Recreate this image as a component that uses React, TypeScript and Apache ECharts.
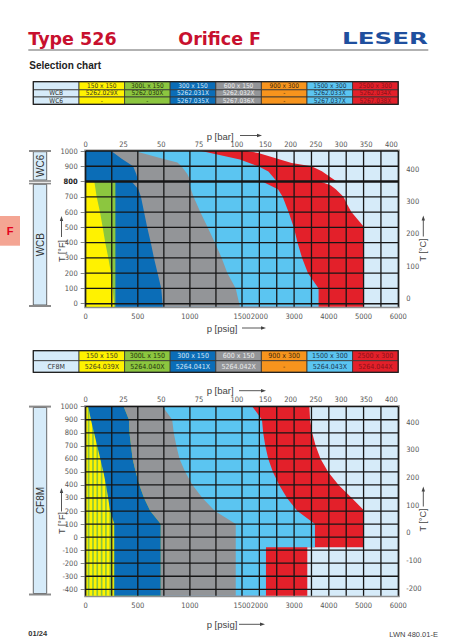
import { useEffect, useRef } from "react";
import * as echarts from "echarts";

// ---------- data ----------
const PSI_PER_BAR = 14.5038;
const psigLabels = [0, 500, 1000, 1500, 2000, 3000, 4000, 5000, 6000];
const barLabels = [0, 25, 50, 75, 100, 150, 200, 250, 300, 350, 400];
const psigGridLines = [0, 250, 500, 750, 1000, 1250, 1500, 2000, 2500, 3000, 3500, 4000, 4500, 5000, 5500, 6000];
const topTempF = [0, 100, 200, 300, 400, 500, 600, 700, 800, 900, 1000];
const topTempC = [0, 100, 200, 300, 400];
const botTempF = [-400, -300, -200, -100, 0, 100, 200, 300, 400, 500, 600, 700, 800, 900, 1000];
const botTempC = [-200, -100, 0, 100, 200, 300, 400];

const classNames = ["150 x 150", "300L x 150", "300 x 150", "600 x 150", "900 x 300", "1500 x 300", "2500 x 300"];
const wcbParts = ["5262.029X", "5262.030X", "5262.031X", "5262.032X", "-", "5262.033X", "5262.034X"];
const wc6Parts = ["-", "-", "5267.035X", "5267.036X", "-", "5267.037X", "5267.038X"];
const cf8mParts = ["5264.039X", "5264.040X", "5264.041X", "5264.042X", "-", "5264.043X", "5264.044X"];

// pressure limits: [T in °F, p in psig]
const wcb150 = [[-20, 275], [0, 272], [100, 259], [200, 243], [300, 217], [400, 188], [500, 163], [600, 137], [700, 105], [800, 83]];
const wcb300L = [[-20, 285], [800, 285]];
const wcb300 = [[-20, 740], [100, 725], [200, 690], [300, 655], [400, 625], [500, 590], [600, 560], [700, 530], [750, 505], [800, 440]];
const wcb600 = [[-20, 1480], [100, 1440], [200, 1360], [300, 1305], [400, 1240], [500, 1170], [600, 1100], [700, 1035], [750, 1010], [800, 985]];
const wcb1500 = [[-20, 3705], [100, 3705], [200, 3400], [300, 3230], [400, 3100], [500, 2990], [600, 2840], [700, 2670], [750, 2535], [800, 2080]];
const wcb2500 = [[-20, 5000], [505, 5000], [600, 4650], [650, 4530], [700, 4420], [750, 4200], [775, 4050], [800, 3750]];
const wc6_300 = [[800, 505], [850, 485], [900, 455], [950, 345], [1000, 245]];
const wc6_600 = [[800, 1010], [850, 975], [900, 920], [925, 880], [950, 740], [975, 600], [1000, 470]];
const wc6_1500 = [[800, 2500], [815, 2450], [865, 2260], [900, 1970], [945, 1480], [1000, 1110]];
const wc6_2500 = [[800, 4230], [823, 4080], [867, 3800], [900, 3500], [921, 2930], [954, 2450], [987, 1970], [1000, 1650]];
const cf150 = [[-450, 275], [100, 275], [200, 235], [300, 215], [400, 195], [500, 170], [600, 140], [700, 110], [800, 80], [900, 50], [1000, 25]];
const cf300 = [[-450, 720], [100, 720], [200, 620], [300, 560], [400, 515], [500, 480], [600, 450], [700, 435], [800, 420], [900, 415], [1000, 365]];
const cf600 = [[-450, 1440], [100, 1440], [200, 1240], [300, 1120], [400, 1025], [500, 955], [600, 900], [700, 870], [800, 845], [900, 830], [1000, 740]];
const cf1500 = [[-450, 2190], [-77, 2190], [-77, 3600], [100, 3600], [200, 3095], [300, 2795], [400, 2570], [500, 2390], [600, 2255], [700, 2170], [800, 2110], [900, 2075], [1000, 1800]];
const cf2500 = [[-450, 3380], [-77, 3380], [-77, 5000], [208, 5000], [300, 4660], [400, 4280], [500, 3980], [600, 3760], [700, 3620], [800, 3520], [900, 3460], [1000, 3440]];
const cf8mStripes = [28, 70, 111, 153, 194, 236, 277];

// ---------- styles ----------
const YELLOW = "#fff200", GREEN = "#8cc63f", BLUE = "#0b6db7", GRAY = "#939598", ORANGE = "#f7941d", LBLUE = "#5bc5f1", RED = "#e3202a", VLIGHT = "#d6ebf9";
const classColors = [YELLOW, GREEN, BLUE, GRAY, ORANGE, LBLUE, RED];
const classTextColors = ["#3b3b20", "#24330f", "#d6e6f5", "#ececec", "#3d2a10", "#1c3550", "#8a1218"];
const FONT_N = "'Liberation Sans Narrow', 'DejaVu Sans Condensed', sans-serif";
const FONT = "'Liberation Sans', Arial, sans-serif";
const GRID_LINE = "#161616";

const toU = (p: number) => (p <= 1500 ? p : 1500 + (p - 1500) / 3);
const fromU = (u: number) => (u <= 1500 ? u : 1500 + (u - 1500) * 3);
const UMAX = toU(6000);

type Pt = number[];
const fromZero = (pts: Pt[]) => [[0, pts[0][0]], ...pts.map(([t, p]) => [toU(p), t]), [0, pts[pts.length - 1][0]]];
const band = (lo: Pt[], hi: Pt[]) => [...lo.map(([t, p]) => [toU(p), t]), ...hi.slice().reverse().map(([t, p]) => [toU(p), t])];
const full = (tMin: number, tMax: number) => [[0, tMin], [UMAX, tMin], [UMAX, tMax], [0, tMax]];

const shapesTop = [
  { pts: full(-20, 1000), color: VLIGHT },
  { pts: fromZero(wcb2500), color: RED },
  { pts: fromZero(wcb1500), color: LBLUE },
  { pts: fromZero(wcb600), color: GRAY },
  { pts: fromZero(wcb300), color: BLUE },
  { pts: fromZero(wcb300L), color: GREEN },
  { pts: fromZero(wcb150), color: YELLOW },
  { pts: fromZero(wc6_2500), color: RED },
  { pts: fromZero(wc6_1500), color: LBLUE },
  { pts: fromZero(wc6_600), color: GRAY },
  { pts: fromZero(wc6_300), color: BLUE },
];
const shapesBot = [
  { pts: full(-450, 1000), color: VLIGHT },
  { pts: fromZero(cf2500), color: RED },
  { pts: fromZero(cf1500), color: LBLUE },
  { pts: fromZero(cf600), color: GRAY },
  { pts: fromZero(cf300), color: YELLOW },
  ...cf8mStripes.map((c) => ({ pts: [[c - 8, -450], [c + 8, -450], [c + 8, 1000], [c - 8, 1000]], color: GREEN })),
  { pts: band(cf150, cf300), color: BLUE },
];

function fillSeries(shapes: any[], gi: number) {
  return {
    type: "custom",
    xAxisIndex: gi * 2,
    yAxisIndex: gi * 2,
    silent: true,
    z: 2,
    data: shapes.map((_, i) => [i, 0]),
    renderItem: (params: any, api: any) => {
      const s = shapes[params.dataIndex];
      return { type: "polygon", shape: { points: s.pts.map((p: number[]) => api.coord(p)) }, style: { fill: s.color, stroke: "none" } };
    },
  };
}

// one item draws every grid line of the panel
function gridLineSeries(gi: number, temps: number[], tMin: number, tMax: number, thickT: number | null) {
  return {
    type: "custom",
    xAxisIndex: gi * 2,
    yAxisIndex: gi * 2,
    silent: true,
    z: 3,
    data: [[0, 0]],
    renderItem: (params: any, api: any) => {
      const children: any[] = [];
      psigGridLines.forEach((p) => {
        const a = api.coord([toU(p), tMin]);
        const b = api.coord([toU(p), tMax]);
        children.push({ type: "line", shape: { x1: a[0], y1: a[1], x2: b[0], y2: b[1] }, style: { stroke: GRID_LINE, lineWidth: 1.3 } });
      });
      temps.forEach((t) => {
        const a = api.coord([0, t]);
        const b = api.coord([UMAX, t]);
        children.push({ type: "line", shape: { x1: a[0], y1: a[1], x2: b[0], y2: b[1] }, style: { stroke: GRID_LINE, lineWidth: t === thickT ? 2.6 : 1.3 } });
      });
      return { type: "group", children };
    },
  };
}

const labelStyle = { fontSize: 7.5, color: "#555", fontFamily: FONT_N, showMinLabel: true, showMaxLabel: true, hideOverlap: false };

function psigAxis(gi: number) {
  return {
    type: "value", gridIndex: gi, position: "bottom", min: 0, max: UMAX,
    axisLine: { show: false }, axisTick: { show: false }, splitLine: { show: false }, minorSplitLine: { show: false },
    axisLabel: { ...labelStyle, margin: 6, customValues: psigLabels.map(toU), formatter: (v: number) => String(Math.round(fromU(v))) },
  };
}
function barAxis(gi: number) {
  const vals = barLabels.map((b) => toU(b * PSI_PER_BAR));
  return {
    type: "value", gridIndex: gi, position: "top", min: 0, max: UMAX,
    axisLine: { show: false }, splitLine: { show: false }, minorSplitLine: { show: false },
    axisTick: { show: true, length: 3, customValues: vals, lineStyle: { color: "#555", width: 0.8 } },
    axisLabel: { ...labelStyle, margin: 3, customValues: vals, formatter: (v: number) => String(Math.round(fromU(v) / PSI_PER_BAR)) },
  };
}
function tempAxis(gi: number, pos: string, min: number, max: number, vals: number[], bold: number | null) {
  return {
    type: "value", gridIndex: gi, position: pos, min, max,
    axisLine: { show: false }, splitLine: { show: false }, minorSplitLine: { show: false },
    axisTick: { show: true, length: 5, customValues: vals, lineStyle: { color: "#666", width: 0.8 } },
    axisLabel: {
      ...labelStyle, margin: 8, customValues: vals,
      formatter: (v: number) => (v === bold ? "{b|" + v + "}" : String(v)),
      rich: { b: { fontSize: 7.5, fontWeight: "bold", color: "#222", fontFamily: FONT_N } },
    },
  };
}

// ---------- graphic helpers ----------
const txt = (x: number, y: number, text: string, o: any = {}) => ({
  type: "text", x, y, rotation: o.rotation || 0, scaleX: o.scaleX || 1, silent: true, z: 10,
  style: {
    text, fill: o.fill || "#333", fontSize: o.size || 9, fontFamily: o.family || FONT, fontWeight: o.weight || "normal",
    align: o.align || "left", textAlign: o.align || "left", verticalAlign: "middle", textVerticalAlign: "middle",
  },
});
const ln = (x1: number, y1: number, x2: number, y2: number, stroke = "#444", w = 1) => ({
  type: "line", silent: true, z: 10, shape: { x1, y1, x2, y2 }, style: { stroke, lineWidth: w },
});
const rc = (x: number, y: number, w: number, h: number, fill: string, stroke = "none", lw = 0) => ({
  type: "rect", silent: true, z: 9, shape: { x, y, width: w, height: h }, style: { fill, stroke, lineWidth: lw },
});
const arrowRight = (x1: number, x2: number, y: number) => [
  ln(x1, y, x2 - 4, y, "#444", 0.9),
  { type: "polygon", silent: true, z: 10, shape: { points: [[x2, y], [x2 - 5, y - 1.7], [x2 - 5, y + 1.7]] }, style: { fill: "#444" } },
];
const arrowUp = (x: number, y1: number, y2: number) => [
  ln(x, y1, x, y2 + 4, "#444", 0.9),
  { type: "polygon", silent: true, z: 10, shape: { points: [[x, y2], [x - 1.7, y2 + 5], [x + 1.7, y2 + 5]] }, style: { fill: "#444" } },
];

const colX = [33.3, 79, 124.6, 170.2, 215.8, 261.4, 307, 352.6, 398.2];
function table(rowsY: number[], rows: { name: string; cells: string[] }[], size: number) {
  const els: any[] = [];
  const all = [{ name: "", cells: classNames }, ...rows];
  all.forEach((r, ri) => {
    const y0 = rowsY[ri], h = rowsY[ri + 1] - rowsY[ri], yc = y0 + h / 2;
    els.push(rc(colX[0], y0, colX[1] - colX[0], h, VLIGHT, "#333", 0.8));
    if (r.name) els.push(txt((colX[0] + colX[1]) / 2, yc, r.name, { size, family: FONT_N, fill: "#333", align: "center" }));
    r.cells.forEach((c, ci) => {
      const x0 = colX[ci + 1], w = colX[ci + 2] - x0;
      els.push(rc(x0, y0, w, h, classColors[ci], "#333", 0.8));
      els.push(txt(x0 + w / 2, yc, c, { size, family: FONT_N, fill: classTextColors[ci], align: "center" }));
    });
  });
  els.push(rc(colX[0], rowsY[0], colX[8] - colX[0], rowsY[rowsY.length - 1] - rowsY[0], "none", "#222", 1.2));
  return els;
}
function sideBox(y0: number, y1: number, label: string) {
  return [
    rc(33.3, y0, 13.4, y1 - y0, VLIGHT, "#444", 0.8),
    txt(40, (y0 + y1) / 2, label, { size: 10, rotation: Math.PI / 2, align: "center", fill: "#333" }),
  ];
}

const graphics: any[] = [
  txt(28.3, 38.5, "Type 526", { size: 17.5, weight: "bold", family: "'DejaVu Sans', sans-serif", fill: "#c8102e" }),
  txt(178.3, 38.5, "Orifice F", { size: 17.5, weight: "bold", family: "'DejaVu Sans', sans-serif", fill: "#c8102e" }),
  txt(342, 38.5, "LESER", { size: 15, weight: "bold", family: "'DejaVu Sans', sans-serif", fill: "#1f4f9e", scaleX: 1.64 }),
  ln(28.3, 50, 428.3, 50, "#999", 1.5),
  txt(29.3, 65, "Selection chart", { size: 10, weight: "bold", fill: "#222" }),
  ...table([81.7, 89.8, 97.0, 104.3], [{ name: "WCB", cells: wcbParts }, { name: "WC6", cells: wc6Parts }], 6.5),
  ...table([350.7, 360.7, 372.3], [{ name: "CF8M", cells: cf8mParts }], 7),
  // side brackets
  ln(29, 151, 51, 151, "#8a8a8a", 2),
  ln(29, 181, 51, 181, "#8a8a8a", 1.6),
  ln(29, 183.6, 51, 183.6, "#8a8a8a", 1.6),
  ln(29, 306, 51, 306, "#8a8a8a", 2),
  ...sideBox(151.7, 180, "WC6"),
  ...sideBox(184.3, 305, "WCB"),
  ln(29, 406.6, 51, 406.6, "#8a8a8a", 2),
  ln(29, 594.5, 51, 594.5, "#8a8a8a", 2),
  ...sideBox(407.5, 593.5, "CF8M"),
  // axis titles
  txt(61.5, 251, "T [°F]", { size: 9, rotation: Math.PI / 2, align: "center", fill: "#444" }),
  ...arrowUp(61.5, 237, 216),
  txt(423.3, 250, "T [°C]", { size: 9, rotation: Math.PI / 2, align: "center", fill: "#444" }),
  ...arrowUp(423.3, 236.5, 215.5),
  txt(61.5, 523, "T [°F]", { size: 9, rotation: Math.PI / 2, align: "center", fill: "#444" }),
  ...arrowUp(61.5, 511.5, 488),
  txt(423.3, 520, "T [°C]", { size: 9, rotation: Math.PI / 2, align: "center", fill: "#444" }),
  ...arrowUp(423.3, 506.5, 486.5),
  txt(206.7, 136, "p [bar]", { size: 9.5, fill: "#444" }),
  ...arrowRight(240, 262, 135.5),
  txt(206.7, 328, "p [psig]", { size: 9.5, fill: "#444" }),
  ...arrowRight(242, 266, 328),
  txt(206.7, 390.7, "p [bar]", { size: 9.5, fill: "#444" }),
  ...arrowRight(239, 266, 390.7),
  txt(206.7, 624.3, "p [psig]", { size: 9.5, fill: "#444" }),
  ...arrowRight(239, 265, 624.3),
  // side tab
  rc(0, 216, 20, 29.7, "#f4a593"),
  txt(10, 231, "F", { size: 11, weight: "bold", fill: "#e3001b", align: "center" }),
  // footer
  txt(28.3, 633, "01/24", { size: 7.5, weight: "bold", fill: "#333" }),
  txt(389.3, 634, "LWN 480.01-E", { size: 7.5, fill: "#444" }),
];

const gridBase = { show: true, backgroundColor: VLIGHT, borderColor: "#8e8e8e", borderWidth: 3, containLabel: false, outerBoundsMode: "none" };

export default function App() {
  const ref = useRef<HTMLDivElement>(null);
  useEffect(() => {
    const chart = echarts.init(ref.current as HTMLDivElement, null, { renderer: "svg" });
    chart.setOption({
      animation: false,
      backgroundColor: "#ffffff",
      grid: [
        { ...gridBase, left: 85.7, top: 151, width: 312.6, height: 155.8 },
        { ...gridBase, left: 85.7, top: 406.7, width: 312.6, height: 189.1 },
      ],
      xAxis: [psigAxis(0), barAxis(0), psigAxis(1), barAxis(1)],
      yAxis: [
        tempAxis(0, "left", -20, 1000, topTempF, 800),
        tempAxis(0, "right", -25, 455.9, topTempC, null),
        tempAxis(1, "left", -450, 1000, botTempF, null),
        tempAxis(1, "right", -228, 455.4, botTempC, null),
      ],
      series: [
        fillSeries(shapesTop, 0),
        gridLineSeries(0, topTempF, -20, 1000, 800),
        fillSeries(shapesBot, 1),
        gridLineSeries(1, botTempF, -450, 1000, null),
      ],
      graphic: { elements: graphics },
    });
    return () => chart.dispose();
  }, []);
  return <div ref={ref} style={{ position: "absolute", left: 0, top: 0, width: 470, height: 640, background: "#fff" }} />;
}
